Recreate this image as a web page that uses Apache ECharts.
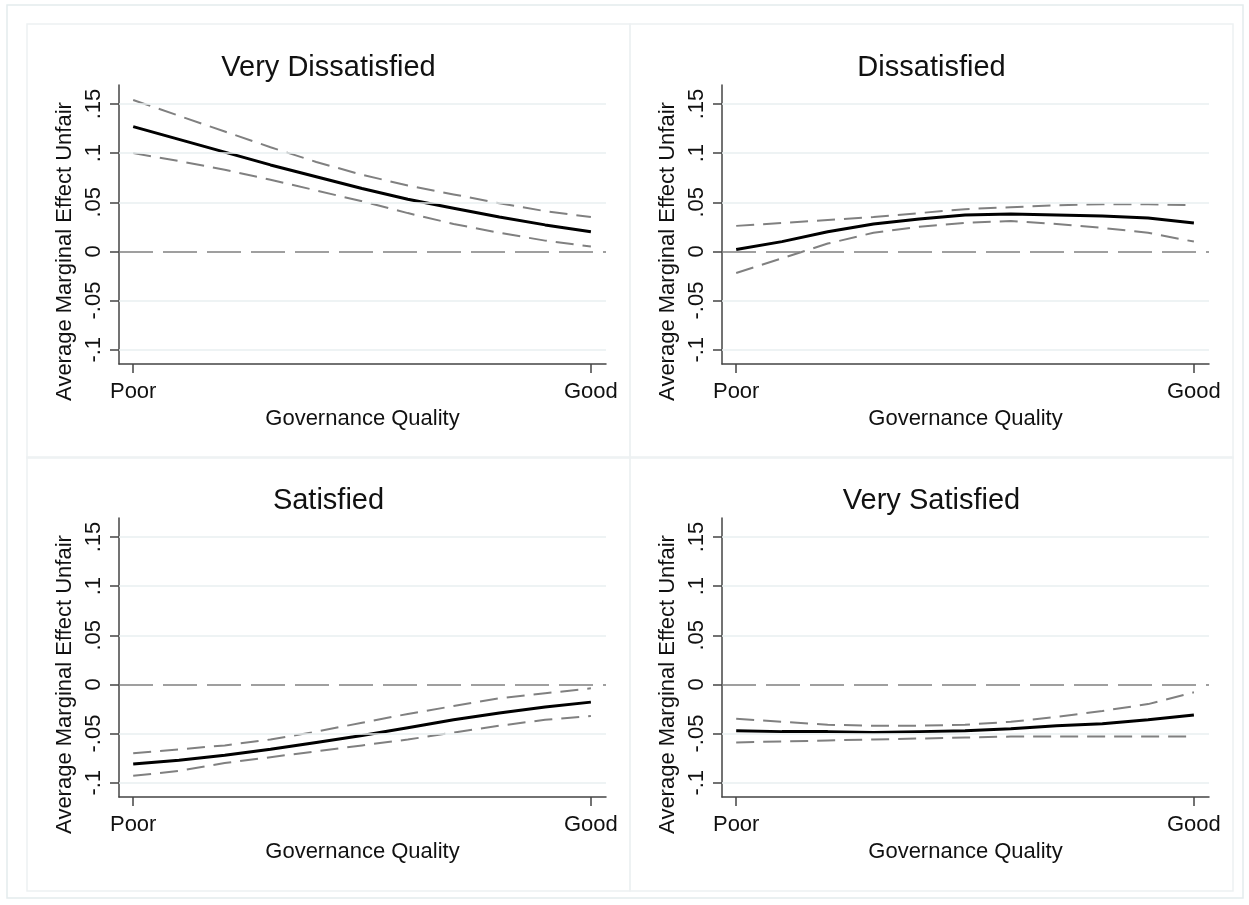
<!DOCTYPE html>
<html>
<head>
<meta charset="utf-8">
<script src="https://cdn.jsdelivr.net/npm/echarts@6/dist/echarts.min.js"></script>
<style>
  html, body { margin: 0; padding: 0; background: #fff; }
  #main { width: 1249px; height: 905px; }
</style>
</head>
<body>
<div id="main"></div>
<script>
// governance quality evaluated from Poor (0) to Good (1)
const govX = [0, 0.1, 0.2, 0.3, 0.4, 0.5, 0.6, 0.7, 0.8, 0.9, 1.0];
const xTicks = [0, 1];
const xTickLabels = ['Poor', 'Good'];
const yTicks = [-0.1, -0.05, 0, 0.05, 0.1, 0.15];
const yTickLabels = ['-.1', '-.05', '0', '.05', '.1', '.15'];
const panelTitles = ['Very Dissatisfied', 'Dissatisfied', 'Satisfied', 'Very Satisfied'];

// Very Dissatisfied
const vdMean  = [0.127, 0.114, 0.101, 0.088, 0.076, 0.064, 0.053, 0.044, 0.035, 0.027, 0.020];
const vdUpper = [0.154, 0.138, 0.122, 0.106, 0.091, 0.078, 0.067, 0.058, 0.049, 0.041, 0.035];
const vdLower = [0.100, 0.092, 0.083, 0.073, 0.062, 0.051, 0.039, 0.028, 0.019, 0.011, 0.005];
// Dissatisfied
const dMean  = [0.002, 0.010, 0.020, 0.028, 0.033, 0.037, 0.038, 0.037, 0.036, 0.034, 0.029];
const dUpper = [0.026, 0.029, 0.032, 0.035, 0.039, 0.043, 0.045, 0.047, 0.048, 0.048, 0.047];
const dLower = [-0.022, -0.007, 0.008, 0.019, 0.025, 0.029, 0.031, 0.028, 0.024, 0.019, 0.010];
// Satisfied
const sMean  = [-0.081, -0.077, -0.072, -0.066, -0.059, -0.052, -0.044, -0.036, -0.029, -0.023, -0.018];
const sUpper = [-0.070, -0.066, -0.062, -0.056, -0.048, -0.039, -0.030, -0.022, -0.014, -0.009, -0.004];
const sLower = [-0.093, -0.088, -0.080, -0.074, -0.068, -0.062, -0.056, -0.049, -0.042, -0.036, -0.032];
// Very Satisfied
const vsMean  = [-0.047, -0.048, -0.048, -0.049, -0.048, -0.047, -0.045, -0.042, -0.040, -0.036, -0.031];
const vsUpper = [-0.035, -0.038, -0.041, -0.042, -0.042, -0.041, -0.038, -0.033, -0.027, -0.020, -0.008];
const vsLower = [-0.059, -0.058, -0.057, -0.056, -0.055, -0.054, -0.053, -0.053, -0.053, -0.053, -0.053];

const panels = [
  [vdMean, vdUpper, vdLower],
  [dMean, dUpper, dLower],
  [sMean, sUpper, sLower],
  [vsMean, vsUpper, vsLower]
];

const FONT = '"Liberation Sans", Arial, Helvetica, sans-serif';
const boxes = [[27, 24], [630, 24], [27, 457], [630, 457]];
const PW = 603, PH = 434;

function pairs(ys) {
  return govX.map((x, i) => [x, ys[i]]);
}
function tickLabel(v, vals, labels) {
  for (let i = 0; i < vals.length; i++) {
    if (Math.abs(v - vals[i]) < 1e-6) return labels[i];
  }
  return '';
}

let myChart = echarts.init(document.getElementById('main'));

const grid = [], xAxis = [], yAxis = [], series = [], title = [], graphic = [];

graphic.push({
  type: 'rect', shape: { x: 7, y: 5, width: 1236, height: 893 },
  style: { fill: 'none', stroke: '#e4ebed', lineWidth: 1.5 }, silent: true
});

panels.forEach((p, k) => {
  const bx = boxes[k][0], by = boxes[k][1];
  const gl = bx + 92, gt = by + 61;
  graphic.push({
    type: 'rect', shape: { x: bx, y: by, width: PW, height: PH },
    style: { fill: 'none', stroke: '#edf1f2', lineWidth: 1.5 }, silent: true
  });
  grid.push({ left: gl, top: gt, width: 487, height: 279 });
  title.push({
    text: panelTitles[k], left: bx + PW / 2, top: by + 29, textAlign: 'center', padding: 0,
    textStyle: { fontFamily: FONT, fontSize: 29, fontWeight: 'normal', color: '#111' }
  });
  xAxis.push({
    type: 'value', gridIndex: k, min: -0.031, max: 1.033,
    name: 'Governance Quality', nameLocation: 'middle', nameGap: 44,
    nameTextStyle: { fontFamily: FONT, fontSize: 22, color: '#111' },
    axisLine: { show: true, onZero: false, lineStyle: { color: '#444', width: 1.5 } },
    axisTick: { show: true, customValues: xTicks, length: 9, lineStyle: { color: '#444', width: 1.5 } },
    axisLabel: {
      customValues: xTicks, margin: 17, fontFamily: FONT, fontSize: 22, color: '#111',
      formatter: v => tickLabel(v, xTicks, xTickLabels)
    },
    splitLine: { show: false }
  });
  yAxis.push({
    type: 'value', gridIndex: k, min: -0.1145, max: 0.1693,
    name: 'Average Marginal Effect Unfair', nameLocation: 'middle', nameGap: 43,
    nameTextStyle: { fontFamily: FONT, fontSize: 22, color: '#111', padding: [0, 54, 0, 0] },
    axisLine: { show: true, onZero: false, lineStyle: { color: '#444', width: 1.5 } },
    axisTick: { show: true, customValues: yTicks, length: 9, lineStyle: { color: '#444', width: 1.5 } },
    axisLabel: {
      customValues: yTicks, rotate: 90, margin: 14, fontFamily: FONT, fontSize: 22, color: '#111',
      formatter: v => tickLabel(v, yTicks, yTickLabels)
    },
    splitLine: { show: false }
  });
  const gridLines = yTicks.filter(v => v !== 0).map(v => ({
    yAxis: v, lineStyle: { color: '#e8eff1', width: 1.5, type: 'solid' }
  }));
  gridLines.push({ yAxis: 0, lineStyle: { color: '#808080', width: 1.5, type: [34, 10] } });
  series.push({
    type: 'line', xAxisIndex: k, yAxisIndex: k, data: pairs(p[2]), showSymbol: false, z: 2,
    lineStyle: { color: '#808080', width: 2, type: [18, 9] },
    markLine: { silent: true, symbol: 'none', label: { show: false }, animation: false, data: gridLines }
  });
  series.push({
    type: 'line', xAxisIndex: k, yAxisIndex: k, data: pairs(p[1]), showSymbol: false, z: 3,
    lineStyle: { color: '#808080', width: 2, type: [18, 9] }
  });
  series.push({
    type: 'line', xAxisIndex: k, yAxisIndex: k, data: pairs(p[0]), showSymbol: false, z: 4,
    lineStyle: { color: '#000', width: 3 }
  });
});

const option = {
  animation: false,
  backgroundColor: '#fff',
  title: title,
  grid: grid,
  xAxis: xAxis,
  yAxis: yAxis,
  series: series,
  graphic: graphic
};
myChart.setOption(option, true);
</script>
</body>
</html>
